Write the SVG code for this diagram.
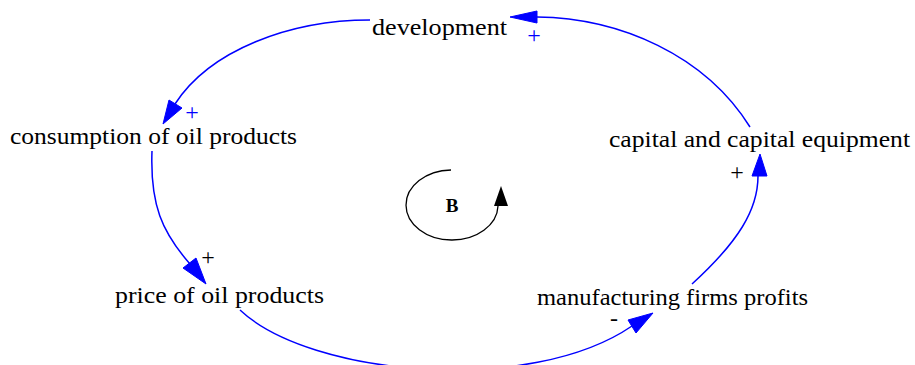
<svg xmlns="http://www.w3.org/2000/svg" width="915" height="365" viewBox="0 0 915 365">
<style>
.n{font-family:"Liberation Serif","Times New Roman",serif;font-size:23px;fill:#000}
.e{fill:none;stroke:#0000ff;stroke-width:1.5}
.ah{fill:#0000ff;stroke:#0000ff}
.p{font-family:"Liberation Serif","Times New Roman",serif;font-size:24px;text-anchor:middle}
.pb{fill:#0000ff}
.pk{fill:#000}
</style>
<rect width="915" height="365" fill="#fff"/>
<g id="connectors">
<path class="e" d="M750,127 C705,55 620,18 537,17"/>
<polygon class="ah" points="510,17 537,11 537,23"/>
<path class="e" d="M370,20 C290,20 210,50 175,104"/>
<polygon class="ah" points="163,124 169,100 182,108"/>
<path class="e" d="M152,151 C150,205 162,232 190,264"/>
<polygon class="ah" points="206,284 183,268 196,258"/>
<path class="e" d="M240,310 C310,376 530,396 632,326"/>
<polygon class="ah" points="653,313 636,333 628,320"/>
<path class="e" d="M692,284 C738,242 758,210 758,176"/>
<polygon class="ah" points="760,154 752,176 767,176"/>
<text class="p pb" x="534" y="43">+</text>
<text class="p pb" x="192" y="120">+</text>
<text class="p pk" x="208" y="265">+</text>
<text class="p pk" x="614" y="326">-</text>
<text class="p pk" x="737" y="180">+</text>
</g>
<g id="development"><text class="n" x="372" y="35" textLength="135" lengthAdjust="spacingAndGlyphs">development</text></g>
<g id="consumption"><text class="n" x="10" y="144" textLength="287" lengthAdjust="spacingAndGlyphs">consumption of oil products</text></g>
<g id="price"><text class="n" x="115" y="303" textLength="209" lengthAdjust="spacingAndGlyphs">price of oil products</text></g>
<g id="capital"><text class="n" x="609" y="147" textLength="301" lengthAdjust="spacingAndGlyphs">capital and capital equipment</text></g>
<g id="profits"><text class="n" x="537" y="305" textLength="271" lengthAdjust="spacingAndGlyphs">manufacturing firms profits</text></g>
<g id="loop">
<path d="M451,170 A46,35 0 1 0 498,206" fill="none" stroke="#000" stroke-width="1.3"/>
<polygon points="501,186 494,206 508,206" fill="#000"/>
<text class="n" x="452" y="212" text-anchor="middle" font-weight="bold" style="font-size:19px">B</text>
</g>
</svg>
